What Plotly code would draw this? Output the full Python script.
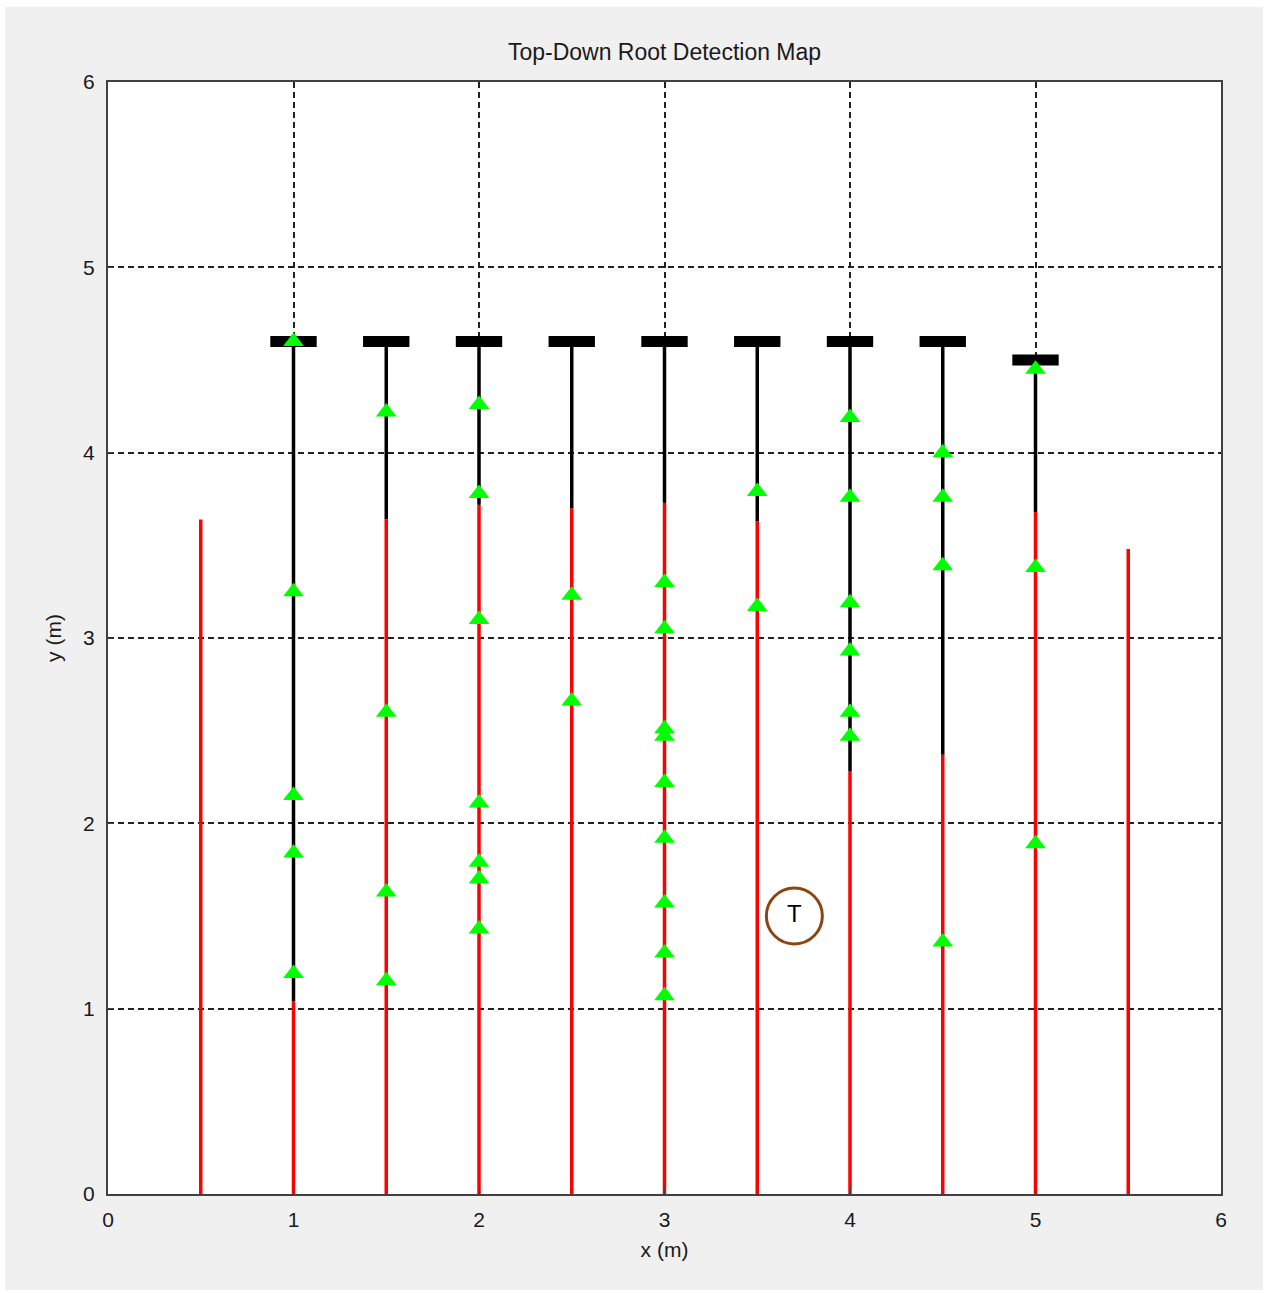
import plotly.graph_objects as go

# ---- data ----
root_x = [0.5, 1.0, 1.5, 2.0, 2.5, 3.0, 3.5, 4.0, 4.5, 5.0, 5.5]
red_top = [3.64, 1.04, 3.64, 3.72, 3.70, 3.73, 3.63, 2.28, 2.37, 3.68, 3.48]
black_top = [None, 4.6, 4.6, 4.6, 4.6, 4.6, 4.6, 4.6, 4.6, 4.5, None]

cap_half_width = 0.125

detections = {
    1.0: [4.60, 3.25, 2.15, 1.84, 1.19],
    1.5: [4.22, 2.60, 1.63, 1.15],
    2.0: [4.26, 3.78, 3.10, 2.11, 1.79, 1.70, 1.43],
    2.5: [3.23, 2.66],
    3.0: [3.30, 3.05, 2.51, 2.47, 2.22, 1.92, 1.57, 1.30, 1.07],
    3.5: [3.79, 3.17],
    4.0: [4.19, 3.76, 3.19, 2.93, 2.60, 2.47],
    4.5: [4.00, 3.76, 3.39, 1.36],
    5.0: [4.45, 3.38, 1.89],
}

tree_x = [3.70]
tree_y = [1.50]
tree_label = ["T"]

x_ticks = [0, 1, 2, 3, 4, 5, 6]
y_ticks = [0, 1, 2, 3, 4, 5, 6]

# ---- build segments ----
red_xs, red_ys = [], []
for x, t in zip(root_x, red_top):
    red_xs += [x, x, None]
    red_ys += [0, t, None]

blk_xs, blk_ys = [], []
cap_xs, cap_ys = [], []
for x, b, t in zip(root_x, red_top, black_top):
    if t is None:
        continue
    blk_xs += [x, x, None]
    blk_ys += [b, t, None]
    cap_xs += [x - cap_half_width, x + cap_half_width, None]
    cap_ys += [t, t, None]

det_x, det_y = [], []
for x, ys in detections.items():
    for y in ys:
        det_x.append(x)
        det_y.append(y)

fig = go.Figure()
fig.add_trace(go.Scatter(x=red_xs, y=red_ys, mode="lines",
                         line=dict(color="#ff0000", width=3.5), showlegend=False))
fig.add_trace(go.Scatter(x=blk_xs, y=blk_ys, mode="lines",
                         line=dict(color="#000000", width=3.5), showlegend=False))
fig.add_trace(go.Scatter(x=cap_xs, y=cap_ys, mode="lines",
                         line=dict(color="#000000", width=11), showlegend=False))
fig.add_trace(go.Scatter(x=det_x, y=det_y, mode="markers",
                         marker=dict(symbol="triangle-up", size=18, color="#00ff00",
                                     line=dict(width=0)),
                         showlegend=False))
fig.add_trace(go.Scatter(x=tree_x, y=tree_y, mode="markers+text", text=tree_label,
                         textposition="middle center",
                         textfont=dict(family="Liberation Sans", size=24, color="#000000"),
                         marker=dict(symbol="circle-open", size=56, color="#8B4513",
                                     line=dict(width=3, color="#8B4513")),
                         showlegend=False))

font_family = "Liberation Sans, Arial, sans-serif"
axis_common = dict(
    range=[0, 6],
    showgrid=True, gridcolor="#222222", gridwidth=1.8, griddash="6px,4px",
    zeroline=False,
    showline=True, linecolor="#404040", linewidth=2, mirror=True,
    ticks="inside", ticklen=6, tickcolor="#404040",
    tickfont=dict(family=font_family, size=21, color="#1a1a1a"),
)

fig.update_layout(
    width=1268, height=1293,
    margin=dict(l=108, r=47, t=82, b=99),
    paper_bgcolor="#ffffff", plot_bgcolor="#ffffff",
    title=dict(text="Top-Down Root Detection Map", x=0.5, xref="paper",
               y=1 - 52 / 1293, yanchor="middle",
               font=dict(family=font_family, size=23, color="#1a1a1a")),
    xaxis=dict(**axis_common, tickvals=x_ticks, ticklabelstandoff=6,
               title=dict(text="x (m)", standoff=12,
                          font=dict(family=font_family, size=21, color="#1a1a1a"))),
    yaxis=dict(**axis_common, tickvals=y_ticks, ticklabelstandoff=7,
               title=dict(text="y (m)", standoff=16,
                          font=dict(family=font_family, size=21, color="#1a1a1a"))),
    shapes=[
        dict(type="rect", xref="paper", yref="paper", layer="below",
             x0=(5 - 108) / 1113, x1=(1263 - 108) / 1113,
             y0=(1194 - 1290) / 1112, y1=(1194 - 7) / 1112,
             fillcolor="#f0f0f0", line=dict(width=0)),
        dict(type="rect", xref="x", yref="y", layer="below",
             x0=0, x1=6, y0=0, y1=6,
             fillcolor="#ffffff", line=dict(width=0)),
    ],
)

fig.write_html("out.html")
